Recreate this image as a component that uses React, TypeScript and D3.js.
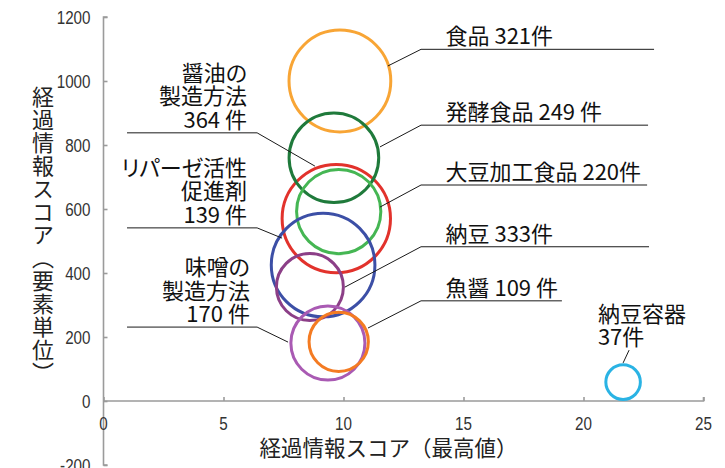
import React, { useEffect, useRef } from 'react';
import * as d3 from 'd3';

// bubble values
const categories = ['食品', '醤油の製造方法', '発酵食品', '大豆加工食品', '納豆', 'リパーゼ活性促進剤', '味噌の製造方法', '魚醤', '納豆容器'];
const counts = [321, 364, 249, 220, 333, 139, 170, 109, 37];
const maxScores = [9.85, 9.7, 9.6, 9.8, 9.15, 8.6, 9.35, 9.8, 21.65];
const elementScores = [1000, 570, 760, 592, 425, 356, 181, 185, 59];
const colors = ['#F8A535', '#E2322C', '#1F7A3B', '#45B653', '#3C4FA6', '#8C3F87', '#A95AB3', '#F47B22', '#2AB3E4'];

const xTicks = [0, 5, 10, 15, 20, 25];
const yTicks = [-200, 0, 200, 400, 600, 800, 1000, 1200];

// callout text + leader polylines, in data units
const calloutLines = [
    ['食品 321件'],
    ['醤油の', '製造方法', '364 件'],
    ['発酵食品 249 件'],
    ['大豆加工食品 220件'],
    ['納豆 333件'],
    ['リパーゼ活性', '促進剤', '139 件'],
    ['味噌の', '製造方法', '170 件'],
    ['魚醤 109 件'],
    ['納豆容器', '37件']
];
const calloutAnchor = ['start', 'end', 'start', 'start', 'start', 'end', 'end', 'start', 'start'];
const calloutTextX = [14.25, 5.98, 14.25, 14.25, 14.25, 5.98, 6.1, 14.25, 20.6];
const calloutBaseY = [1099, 838, 862, 675, 482, 541, 231, 313, 159];
const calloutPaths = [
    [[22.94, 1099], [13.23, 1099], [11.85, 1047]],
    [[0.98, 838], [6.4, 838], [8.81, 734]],
    [[22.69, 862], [13.23, 862], [11.52, 794]],
    [[22.65, 675], [13.23, 675], [11.52, 606]],
    [[22.73, 482], [13.23, 482], [10.06, 356]],
    [[0.98, 541], [6.4, 541], [7.44, 509]],
    [[0.98, 231], [6.4, 231], [7.69, 184]],
    [[19.1, 313], [13.23, 313], [11.02, 228]],
    [[21.9, 159], [21.65, 119]]
];

const W = 725;
const H = 468;
const plot = { left: 103.5, right: 703.5, top: 17, bottom: 465 };
const jpFont = '"Noto Sans CJK JP", "Noto Sans", sans-serif';
const tickFont = '"Liberation Sans", Arial, sans-serif';

export default function App() {
    const ref = useRef<SVGSVGElement>(null);

    useEffect(() => {
        const svg = d3.select(ref.current);
        svg.selectAll('*').remove();

        const x = d3.scaleLinear().domain([0, 25]).range([plot.left, plot.right]);
        const y = d3.scaleLinear().domain([-200, 1200]).range([plot.bottom, plot.top]);
        const r = d3.scaleSqrt().domain([0, 400]).range([0, 56.8]);

        // y axis (ticks point inward)
        const yAxis = d3.axisRight(y).tickValues(yTicks).tickSize(4).tickFormat(() => '');
        const gy = svg.append('g').attr('transform', 'translate(' + plot.left + ',0)').call(yAxis);
        gy.select('.domain').attr('d', 'M4,' + plot.top + 'H0V' + plot.bottom + 'H4');
        gy.selectAll('line, path').attr('stroke', '#9b9b9b').attr('stroke-width', 1.6);

        // narrow tick labels: squeeze a regular face horizontally
        svg.append('g').selectAll('text')
            .data(yTicks)
            .enter().append('text')
            .attr('transform', (d) => 'translate(' + (plot.left - 13) + ',' + y(d) + ') scale(0.8,1)')
            .attr('dy', '0.36em')
            .attr('text-anchor', 'end')
            .style('font-family', tickFont)
            .style('font-size', '19px')
            .attr('fill', '#333')
            .text((d) => String(d));

        // x axis at y = 0, ticks pointing up
        const xAxis = d3.axisTop(x).tickValues(xTicks).tickSize(4).tickSizeOuter(4).tickFormat(() => '');
        const gx = svg.append('g').attr('transform', 'translate(0,' + y(0) + ')').call(xAxis);
        gx.select('.domain').attr('d', 'M' + plot.left + ',0H' + plot.right + 'V-4');
        gx.selectAll('line, path').attr('stroke', '#9b9b9b').attr('stroke-width', 1.6);

        svg.append('g').selectAll('text')
            .data(xTicks)
            .enter().append('text')
            .attr('transform', (d) => 'translate(' + x(d) + ',' + (y(0) + 29) + ') scale(0.8,1)')
            .attr('text-anchor', 'middle')
            .style('font-family', tickFont)
            .style('font-size', '19px')
            .attr('fill', '#333')
            .text((d) => String(d));

        // axis titles
        svg.append('text')
            .attr('x', 388.5)
            .attr('y', 456)
            .attr('text-anchor', 'middle')
            .style('font-family', jpFont)
            .style('font-size', '21.5px')
            .attr('fill', '#222')
            .text('経過情報スコア（最高値）');

        svg.append('text')
            .attr('x', 43)
            .attr('y', 235)
            .attr('text-anchor', 'middle')
            .style('writing-mode', 'vertical-rl')
            .style('font-family', jpFont)
            .style('font-size', '22px')
            .style('letter-spacing', '1px')
            .attr('fill', '#222')
            .text('経過情報スコア（要素単位）');

        // bubbles
        svg.append('g').selectAll('circle')
            .data(categories)
            .enter().append('circle')
            .attr('cx', (d, i) => x(maxScores[i]))
            .attr('cy', (d, i) => y(elementScores[i]))
            .attr('r', (d, i) => r(counts[i]))
            .attr('fill', 'none')
            .attr('stroke', (d, i) => colors[i])
            .attr('stroke-width', 3);

        // callouts
        const line = d3.line<number[]>()
            .x((p) => x(p[0]))
            .y((p) => y(p[1]));

        const callouts = svg.append('g');
        calloutLines.forEach((lines, i) => {
            callouts.append('path')
                .attr('d', line(calloutPaths[i]))
                .attr('fill', 'none')
                .attr('stroke', '#1a1a1a')
                .attr('stroke-width', 1);
            const baseline = y(calloutBaseY[i]) - 5;
            lines.forEach((txt, j) => {
                callouts.append('text')
                    .attr('x', x(calloutTextX[i]))
                    .attr('y', baseline - (lines.length - 1 - j) * 23.5)
                    .attr('text-anchor', calloutAnchor[i])
                    .style('font-family', jpFont)
                    .style('font-size', '22px')
                    .style('font-feature-settings', '"palt"')
                    .attr('fill', '#111')
                    .text(txt);
            });
        });
    }, []);

    return (
        <svg ref={ref} width={W} height={H}
            style={{ position: 'absolute', left: 0, top: 0, background: '#fff' }} />
    );
}
